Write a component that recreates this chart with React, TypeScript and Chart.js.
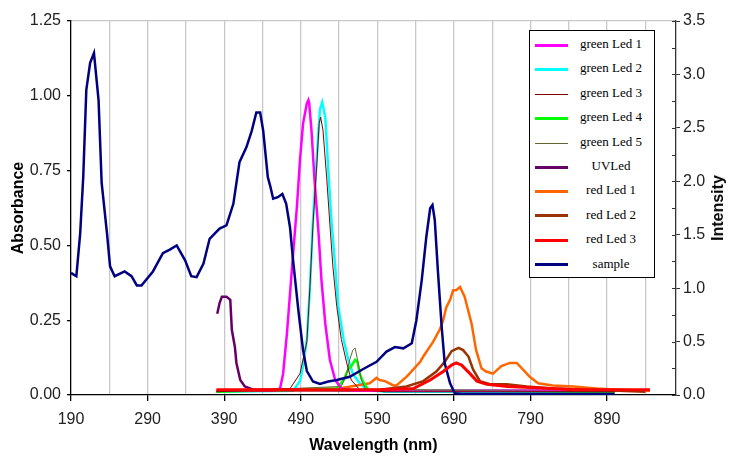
import React, { useEffect, useRef } from "react";
import { Chart, registerables } from "chart.js";

Chart.register(...registerables);

// ---- axis ticks ----
const xTickLabels = [190, 290, 390, 490, 590, 690, 790, 890];
const xGridLines = [240, 340, 440, 540, 640, 740, 840, 940];
const absorbanceTicks = [0, 0.25, 0.5, 0.75, 1.0, 1.25];
const intensityTicks = [0, 0.5, 1.0, 1.5, 2.0, 2.5, 3.0, 3.5];
const intensityMinorTicks = [0.25, 0.75, 1.25, 1.75, 2.25, 2.75, 3.25];

// ---- sample (absorbance) ----
const sampleWl = [190, 197, 202, 206, 210, 215, 220, 226, 230, 237, 241, 247, 260, 269, 276, 282, 297, 310, 319, 328, 339, 347, 354, 363, 371, 384, 393, 402, 410, 419, 426, 432, 437, 441, 447, 450, 454, 460, 466, 471, 476, 480, 487, 493, 498, 506, 515, 526, 537, 554, 571, 589, 602, 613, 624, 635, 641, 648, 654, 659, 662, 665, 669, 674, 678, 685, 691, 700, 800, 900];
const sampleAbs = [0.408, 0.397, 0.54, 0.73, 1.02, 1.11, 1.143, 0.985, 0.71, 0.54, 0.43, 0.397, 0.413, 0.397, 0.366, 0.366, 0.413, 0.474, 0.486, 0.50, 0.45, 0.397, 0.394, 0.439, 0.522, 0.556, 0.567, 0.639, 0.778, 0.828, 0.883, 0.944, 0.944, 0.883, 0.728, 0.70, 0.656, 0.661, 0.672, 0.639, 0.56, 0.45, 0.28, 0.15, 0.08, 0.045, 0.037, 0.045, 0.05, 0.061, 0.086, 0.111, 0.145, 0.16, 0.156, 0.173, 0.25, 0.384, 0.529, 0.624, 0.635, 0.585, 0.418, 0.228, 0.106, 0.039, 0.006, 0.003, 0.003, 0.003];

// ---- LEDs (intensity) ----
const greenLed1Wl = [380, 455, 463, 467, 472, 476, 480, 485, 489, 493, 498, 500, 501, 504, 508, 513, 517, 522, 528, 535, 543, 560, 900];
const greenLed1 = [0.04, 0.04, 0.06, 0.20, 0.58, 0.95, 1.32, 1.76, 2.20, 2.54, 2.73, 2.76, 2.73, 2.48, 2.01, 1.54, 1.08, 0.67, 0.33, 0.14, 0.06, 0.04, 0.04];

const greenLed2Wl = [380, 480, 489, 493, 498, 502, 506, 511, 515, 518, 522, 526, 530, 535, 539, 546, 552, 558, 567, 576, 600, 900];
const greenLed2 = [0.03, 0.04, 0.13, 0.27, 0.52, 1.01, 1.64, 2.23, 2.67, 2.74, 2.60, 2.10, 1.64, 1.20, 0.83, 0.52, 0.33, 0.20, 0.11, 0.05, 0.03, 0.03];

const greenLed3Wl = [380, 476, 489, 498, 502, 506, 511, 514, 516, 519, 524, 528, 532, 537, 543, 550, 556, 567, 600, 900];
const greenLed3 = [0.03, 0.06, 0.20, 0.50, 1.01, 1.60, 2.16, 2.54, 2.60, 2.48, 2.02, 1.60, 1.20, 0.83, 0.52, 0.30, 0.14, 0.05, 0.03, 0.03];

const greenLed4Wl = [380, 537, 546, 552, 556, 561, 564, 567, 571, 578, 900];
const greenLed4 = [0.03, 0.06, 0.14, 0.24, 0.27, 0.33, 0.31, 0.20, 0.13, 0.05, 0.03];

const greenLed5Wl = [380, 543, 550, 554, 558, 561, 565, 569, 575, 900];
const greenLed5 = [0.03, 0.08, 0.20, 0.33, 0.42, 0.44, 0.30, 0.14, 0.05, 0.03];

const uvLedWl = [381, 384, 387, 393, 398, 400, 404, 406, 411, 417, 428, 445, 600, 897];
const uvLed = [0.76, 0.86, 0.92, 0.92, 0.89, 0.61, 0.45, 0.30, 0.14, 0.08, 0.05, 0.05, 0.04, 0.04];

const redLed1Wl = [380, 540, 580, 589, 593, 600, 611, 615, 628, 632, 646, 650, 663, 672, 676, 680, 685, 689, 693, 698, 704, 713, 719, 726, 732, 741, 752, 763, 772, 780, 789, 800, 819, 846, 876, 907, 946];
const redLed1 = [0.04, 0.06, 0.11, 0.16, 0.14, 0.13, 0.09, 0.09, 0.17, 0.20, 0.31, 0.36, 0.50, 0.62, 0.70, 0.82, 0.89, 0.98, 0.98, 1.01, 0.92, 0.67, 0.42, 0.25, 0.22, 0.20, 0.27, 0.30, 0.30, 0.24, 0.17, 0.11, 0.09, 0.08, 0.06, 0.05, 0.04];

const redLed2Wl = [380, 593, 628, 650, 667, 678, 687, 696, 702, 709, 715, 724, 737, 759, 785, 819, 870, 940];
const redLed2 = [0.04, 0.05, 0.08, 0.13, 0.22, 0.31, 0.41, 0.44, 0.42, 0.36, 0.24, 0.13, 0.10, 0.10, 0.08, 0.06, 0.05, 0.03];

const redLed3Wl = [380, 593, 637, 659, 676, 687, 693, 700, 711, 720, 733, 760, 790, 850, 946];
const redLed3 = [0.05, 0.05, 0.06, 0.14, 0.22, 0.28, 0.30, 0.28, 0.20, 0.13, 0.10, 0.08, 0.07, 0.05, 0.05];

type Series = { label: string; wl: number[]; val: number[]; color: string; width: number; axis: string; order: number };

const seriesList: Series[] = [
  { label: "green Led 1", wl: greenLed1Wl, val: greenLed1, color: "#FF00FF", width: 2.5, axis: "y2", order: 3 },
  { label: "green Led 2", wl: greenLed2Wl, val: greenLed2, color: "#00FFFF", width: 2.5, axis: "y2", order: 4 },
  { label: "green Led 3", wl: greenLed3Wl, val: greenLed3, color: "#800000", width: 1, axis: "y2", order: 2 },
  { label: "green Led 4", wl: greenLed4Wl, val: greenLed4, color: "#00FF00", width: 2.5, axis: "y2", order: 3 },
  { label: "green Led 5", wl: greenLed5Wl, val: greenLed5, color: "#666633", width: 1, axis: "y2", order: 2 },
  { label: "UVLed", wl: uvLedWl, val: uvLed, color: "#660066", width: 2.5, axis: "y2", order: 3 },
  { label: "red Led 1", wl: redLed1Wl, val: redLed1, color: "#FF6600", width: 2.5, axis: "y2", order: 3 },
  { label: "red Led 2", wl: redLed2Wl, val: redLed2, color: "#993300", width: 2.5, axis: "y2", order: 2 },
  { label: "red Led 3", wl: redLed3Wl, val: redLed3, color: "#FF0000", width: 3, axis: "y2", order: 0 },
  { label: "sample", wl: sampleWl, val: sampleAbs, color: "#000080", width: 2.5, axis: "y", order: 1 },
];

const SANS = "'Liberation Sans', Arial, sans-serif";
const TICK_FONT = { family: SANS, size: 16 };
const TITLE_FONT = { family: SANS, size: 16, weight: "bold" as const };
const TEXT_COLOR = "#222";

const minorTickPlugin = {
  id: "minorTicksInside",
  afterDraw(chart: any) {
    const s = chart.scales.y2;
    if (!s) return;
    const ctx = chart.ctx;
    ctx.save();
    ctx.strokeStyle = "#333";
    ctx.lineWidth = 1;
    [...intensityTicks, ...intensityMinorTicks].forEach((v) => {
      const y = Math.round(s.getPixelForValue(v)) + 0.5;
      ctx.beginPath();
      ctx.moveTo(s.left - 4, y);
      ctx.lineTo(s.left, y);
      ctx.stroke();
    });
    ctx.restore();
  },
};

export default function App() {
  const ref = useRef<HTMLCanvasElement>(null);

  useEffect(() => {
    if (!ref.current) return;
    const datasets = seriesList.map((s) => ({
      label: s.label,
      data: s.wl.map((x, i) => ({ x, y: s.val[i] })),
      borderColor: s.color,
      backgroundColor: s.color,
      borderWidth: s.width,
      pointRadius: 0,
      tension: 0,
      fill: false,
      yAxisID: s.axis,
      order: s.order,
    }));

    const chart = new Chart(ref.current, {
      type: "line",
      data: { datasets },
      plugins: [minorTickPlugin],
      options: {
        responsive: false,
        animation: false,
        layout: { padding: { top: 21, left: 0, right: 0, bottom: 0 } },
        plugins: { legend: { display: false }, tooltip: { enabled: false } },
        scales: {
          x: {
            type: "linear",
            min: 190,
            max: 980,
            afterBuildTicks: (s: any) => {
              s.ticks = [...xTickLabels, ...xGridLines].sort((a, b) => a - b).map((v) => ({ value: v }));
            },
            afterFit: (s: any) => {
              s.height = 61;
            },
            ticks: {
              autoSkip: false,
              maxRotation: 0,
              padding: 9,
              color: TEXT_COLOR,
              font: TICK_FONT,
              callback: (v: any) => (xTickLabels.includes(Number(v)) ? String(v) : ""),
            },
            grid: {
              color: (c: any) => (c.tick && c.tick.value !== 190 ? "#c8c8c8" : "rgba(0,0,0,0)"),
              lineWidth: 1.3,
              tickLength: 6,
              tickColor: (c: any) => (c.tick && xTickLabels.includes(c.tick.value) ? "#000" : "rgba(0,0,0,0)"),
            },
            border: { color: "#000", width: 1.3 },
            title: { display: true, text: "Wavelength (nm)", color: "#000", font: TITLE_FONT, padding: { top: 0, bottom: 1 } },
          },
          y: {
            type: "linear",
            position: "left",
            min: 0,
            max: 1.25,
            afterBuildTicks: (s: any) => {
              s.ticks = absorbanceTicks.map((v) => ({ value: v }));
            },
            afterFit: (s: any) => {
              s.width = 71;
            },
            ticks: {
              padding: 6,
              color: TEXT_COLOR,
              font: TICK_FONT,
              callback: (v: any) => Number(v).toFixed(2),
            },
            grid: {
              color: (c: any) => (c.tick && c.tick.value === 1.25 ? "#c8c8c8" : "rgba(0,0,0,0)"),
              lineWidth: 1.3,
              tickLength: 4,
              tickColor: "#000",
            },
            border: { color: "#000", width: 1.3 },
            title: { display: true, text: "Absorbance", color: "#000", font: TITLE_FONT, padding: { top: 9, bottom: 0 } },
          },
          y2: {
            type: "linear",
            position: "right",
            min: 0,
            max: 3.5,
            afterBuildTicks: (s: any) => {
              s.ticks = [...intensityTicks, ...intensityMinorTicks].sort((a, b) => a - b).map((v) => ({ value: v }));
            },
            afterFit: (s: any) => {
              s.width = 66;
            },
            ticks: {
              padding: 3,
              color: TEXT_COLOR,
              font: TICK_FONT,
              callback: (v: any) => (intensityTicks.includes(Number(v)) ? Number(v).toFixed(1) : ""),
            },
            grid: {
              drawOnChartArea: false,
              tickLength: 4,
              tickColor: (c: any) => (c.tick && intensityTicks.includes(c.tick.value) ? "#333" : "rgba(0,0,0,0)"),
            },
            border: { color: "#333", width: 1.3 },
            title: { display: false },
          },
        },
      } as any,
    });
    return () => chart.destroy();
  }, []);

  const legendTop = 30;
  const rowStart = 14;
  const rowStep = 24.4;

  return (
    <div style={{ position: "absolute", left: 0, top: 0, width: 742, height: 456, background: "#fff" }}>
      <canvas ref={ref} width={742} height={456} style={{ display: "block" }} />
      <div
        style={{
          position: "absolute",
          left: 718,
          top: 208,
          transform: "translate(-50%, -50%) rotate(-90deg)",
          font: `bold 16px ${SANS}`,
          color: "#000",
          whiteSpace: "nowrap",
        }}
      >
        Intensity
      </div>
      <div
        style={{
          position: "absolute",
          left: 529,
          top: legendTop,
          width: 124,
          height: 246,
          border: "1px solid #000",
          background: "#fff",
        }}
      >
        {seriesList.map((s, i) => (
          <div
            key={s.label}
            style={{ position: "absolute", left: 0, top: rowStart + i * rowStep - 9, height: 18, width: 124 }}
          >
            <div
              style={{
                position: "absolute",
                left: 5,
                top: s.width < 2 ? 9 : 7.5,
                width: 33,
                height: s.width < 2 ? 1 : 3,
                background: s.color,
              }}
            />
            <div
              style={{
                position: "absolute",
                left: 42,
                width: 78,
                top: 0,
                height: 18,
                lineHeight: "18px",
                textAlign: "center",
                font: `13px 'Liberation Serif', 'Times New Roman', serif`,
                color: "#000",
                whiteSpace: "nowrap",
              }}
            >
              {s.label}
            </div>
          </div>
        ))}
      </div>
    </div>
  );
}
